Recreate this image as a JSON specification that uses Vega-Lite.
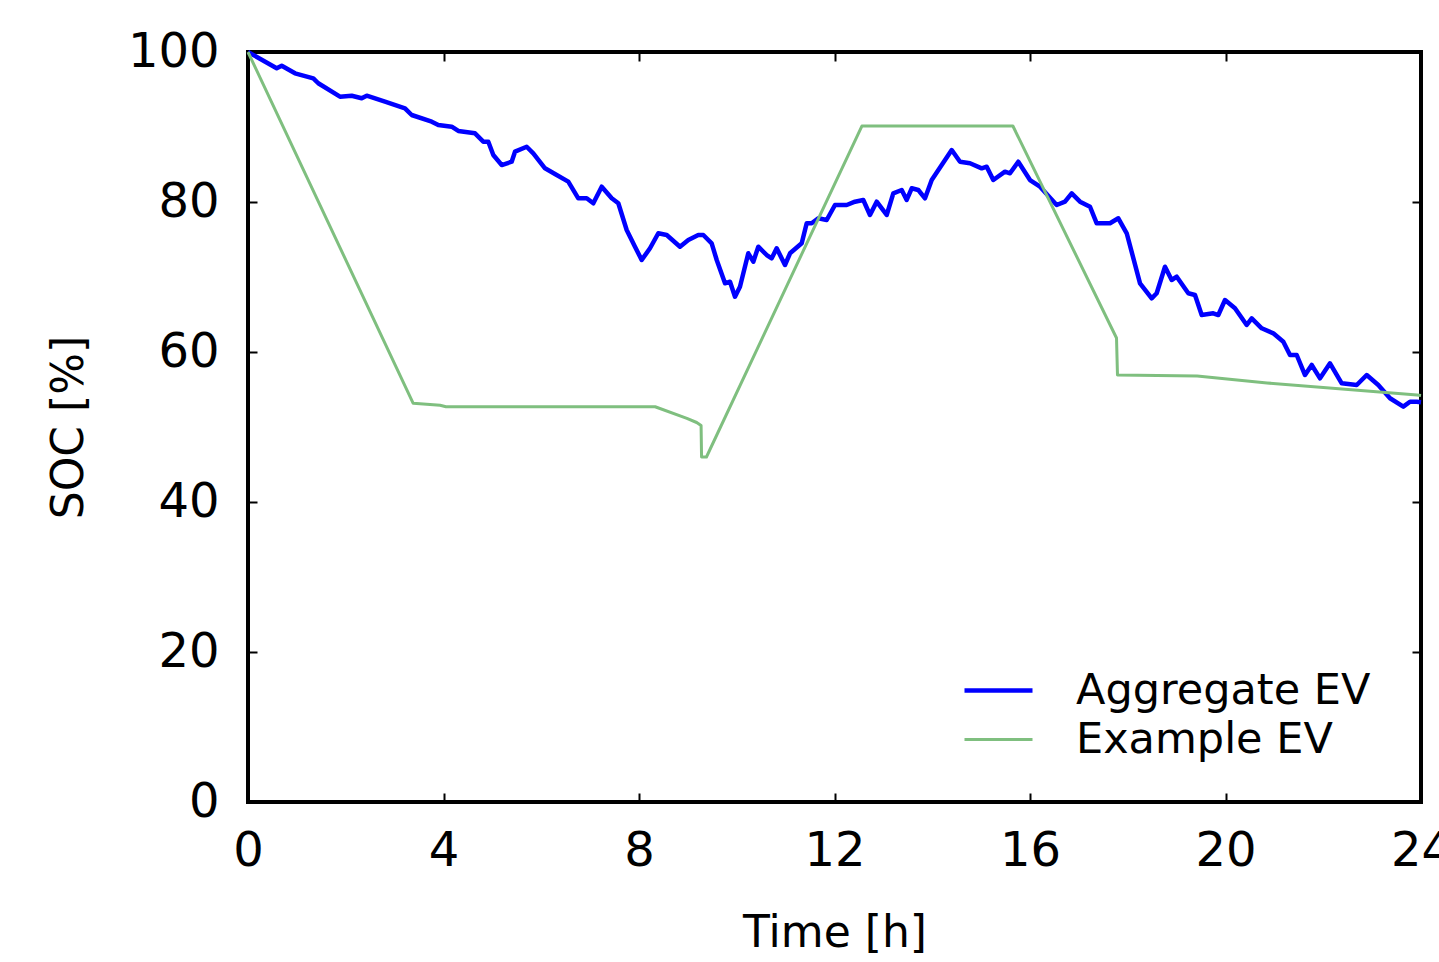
{
  "$schema": "https://vega.github.io/schema/vega-lite/v6.json",
  "width": 1173,
  "height": 750,
  "autosize": {"type": "none"},
  "padding": {"left": 248, "top": 52, "right": 18, "bottom": 160},
  "background": "white",
  "config": {
    "font": "DejaVu Sans",
    "view": {"stroke": "black", "strokeWidth": 4},
    "axis": {
      "domain": false,
      "grid": false,
      "tickColor": "black",
      "tickWidth": 2,
      "tickSize": -9,
      "labelColor": "black",
      "titleColor": "black",
      "labelFont": "DejaVu Sans",
      "titleFont": "DejaVu Sans",
      "titleFontWeight": "normal",
      "labelFontSize": 48,
      "titleFontSize": 44
    }
  },
  "data": {
    "values": [
      {"series": "Aggregate EV", "i": 0, "t": 0, "soc": 100},
      {"series": "Aggregate EV", "i": 1, "t": 0.587, "soc": 97.83},
      {"series": "Aggregate EV", "i": 2, "t": 0.69, "soc": 98.17},
      {"series": "Aggregate EV", "i": 3, "t": 0.962, "soc": 97.16},
      {"series": "Aggregate EV", "i": 4, "t": 1.336, "soc": 96.49},
      {"series": "Aggregate EV", "i": 5, "t": 1.438, "soc": 95.83},
      {"series": "Aggregate EV", "i": 6, "t": 1.882, "soc": 94.04},
      {"series": "Aggregate EV", "i": 7, "t": 2.122, "soc": 94.17},
      {"series": "Aggregate EV", "i": 8, "t": 2.326, "soc": 93.83},
      {"series": "Aggregate EV", "i": 9, "t": 2.429, "soc": 94.17},
      {"series": "Aggregate EV", "i": 10, "t": 2.803, "soc": 93.37},
      {"series": "Aggregate EV", "i": 11, "t": 3.212, "soc": 92.49},
      {"series": "Aggregate EV", "i": 12, "t": 3.349, "soc": 91.6},
      {"series": "Aggregate EV", "i": 13, "t": 3.759, "soc": 90.71},
      {"series": "Aggregate EV", "i": 14, "t": 3.894, "soc": 90.27},
      {"series": "Aggregate EV", "i": 15, "t": 4.168, "soc": 90.04},
      {"series": "Aggregate EV", "i": 16, "t": 4.303, "soc": 89.47},
      {"series": "Aggregate EV", "i": 17, "t": 4.645, "soc": 89.16},
      {"series": "Aggregate EV", "i": 18, "t": 4.814, "soc": 88.04},
      {"series": "Aggregate EV", "i": 19, "t": 4.917, "soc": 88.04},
      {"series": "Aggregate EV", "i": 20, "t": 5.019, "soc": 86.27},
      {"series": "Aggregate EV", "i": 21, "t": 5.191, "soc": 84.93},
      {"series": "Aggregate EV", "i": 22, "t": 5.395, "soc": 85.37},
      {"series": "Aggregate EV", "i": 23, "t": 5.463, "soc": 86.71},
      {"series": "Aggregate EV", "i": 24, "t": 5.702, "soc": 87.37},
      {"series": "Aggregate EV", "i": 25, "t": 5.837, "soc": 86.49},
      {"series": "Aggregate EV", "i": 26, "t": 6.077, "soc": 84.49},
      {"series": "Aggregate EV", "i": 27, "t": 6.316, "soc": 83.6},
      {"series": "Aggregate EV", "i": 28, "t": 6.553, "soc": 82.71},
      {"series": "Aggregate EV", "i": 29, "t": 6.758, "soc": 80.49},
      {"series": "Aggregate EV", "i": 30, "t": 6.93, "soc": 80.49},
      {"series": "Aggregate EV", "i": 31, "t": 7.065, "soc": 79.83},
      {"series": "Aggregate EV", "i": 32, "t": 7.237, "soc": 82.04},
      {"series": "Aggregate EV", "i": 33, "t": 7.442, "soc": 80.49},
      {"series": "Aggregate EV", "i": 34, "t": 7.577, "soc": 79.83},
      {"series": "Aggregate EV", "i": 35, "t": 7.748, "soc": 76.27},
      {"series": "Aggregate EV", "i": 36, "t": 7.918, "soc": 74.04},
      {"series": "Aggregate EV", "i": 37, "t": 8.055, "soc": 72.27},
      {"series": "Aggregate EV", "i": 38, "t": 8.225, "soc": 73.83},
      {"series": "Aggregate EV", "i": 39, "t": 8.395, "soc": 75.83},
      {"series": "Aggregate EV", "i": 40, "t": 8.567, "soc": 75.6},
      {"series": "Aggregate EV", "i": 41, "t": 8.839, "soc": 74.04},
      {"series": "Aggregate EV", "i": 42, "t": 9.009, "soc": 74.93},
      {"series": "Aggregate EV", "i": 43, "t": 9.213, "soc": 75.6},
      {"series": "Aggregate EV", "i": 44, "t": 9.316, "soc": 75.6},
      {"series": "Aggregate EV", "i": 45, "t": 9.487, "soc": 74.49},
      {"series": "Aggregate EV", "i": 46, "t": 9.59, "soc": 72.27},
      {"series": "Aggregate EV", "i": 47, "t": 9.76, "soc": 69.16},
      {"series": "Aggregate EV", "i": 48, "t": 9.862, "soc": 69.37},
      {"series": "Aggregate EV", "i": 49, "t": 9.964, "soc": 67.37},
      {"series": "Aggregate EV", "i": 50, "t": 10.066, "soc": 68.71},
      {"series": "Aggregate EV", "i": 51, "t": 10.236, "soc": 73.16},
      {"series": "Aggregate EV", "i": 52, "t": 10.339, "soc": 72.04},
      {"series": "Aggregate EV", "i": 53, "t": 10.441, "soc": 74.04},
      {"series": "Aggregate EV", "i": 54, "t": 10.613, "soc": 72.93},
      {"series": "Aggregate EV", "i": 55, "t": 10.715, "soc": 72.49},
      {"series": "Aggregate EV", "i": 56, "t": 10.817, "soc": 73.83},
      {"series": "Aggregate EV", "i": 57, "t": 10.987, "soc": 71.6},
      {"series": "Aggregate EV", "i": 58, "t": 11.09, "soc": 73.16},
      {"series": "Aggregate EV", "i": 59, "t": 11.329, "soc": 74.49},
      {"series": "Aggregate EV", "i": 60, "t": 11.431, "soc": 77.16},
      {"series": "Aggregate EV", "i": 61, "t": 11.533, "soc": 77.16},
      {"series": "Aggregate EV", "i": 62, "t": 11.669, "soc": 77.83},
      {"series": "Aggregate EV", "i": 63, "t": 11.84, "soc": 77.6},
      {"series": "Aggregate EV", "i": 64, "t": 12.01, "soc": 79.6},
      {"series": "Aggregate EV", "i": 65, "t": 12.25, "soc": 79.6},
      {"series": "Aggregate EV", "i": 66, "t": 12.419, "soc": 80.04},
      {"series": "Aggregate EV", "i": 67, "t": 12.589, "soc": 80.27},
      {"series": "Aggregate EV", "i": 68, "t": 12.726, "soc": 78.27},
      {"series": "Aggregate EV", "i": 69, "t": 12.863, "soc": 80.04},
      {"series": "Aggregate EV", "i": 70, "t": 13.068, "soc": 78.27},
      {"series": "Aggregate EV", "i": 71, "t": 13.203, "soc": 81.16},
      {"series": "Aggregate EV", "i": 72, "t": 13.375, "soc": 81.6},
      {"series": "Aggregate EV", "i": 73, "t": 13.477, "soc": 80.27},
      {"series": "Aggregate EV", "i": 74, "t": 13.58, "soc": 81.83},
      {"series": "Aggregate EV", "i": 75, "t": 13.715, "soc": 81.6},
      {"series": "Aggregate EV", "i": 76, "t": 13.852, "soc": 80.49},
      {"series": "Aggregate EV", "i": 77, "t": 13.989, "soc": 82.93},
      {"series": "Aggregate EV", "i": 78, "t": 14.398, "soc": 86.93},
      {"series": "Aggregate EV", "i": 79, "t": 14.568, "soc": 85.37},
      {"series": "Aggregate EV", "i": 80, "t": 14.772, "soc": 85.16},
      {"series": "Aggregate EV", "i": 81, "t": 15.012, "soc": 84.49},
      {"series": "Aggregate EV", "i": 82, "t": 15.114, "soc": 84.71},
      {"series": "Aggregate EV", "i": 83, "t": 15.249, "soc": 82.93},
      {"series": "Aggregate EV", "i": 84, "t": 15.488, "soc": 84.04},
      {"series": "Aggregate EV", "i": 85, "t": 15.591, "soc": 83.83},
      {"series": "Aggregate EV", "i": 86, "t": 15.76, "soc": 85.37},
      {"series": "Aggregate EV", "i": 87, "t": 16.0, "soc": 82.93},
      {"series": "Aggregate EV", "i": 88, "t": 16.205, "soc": 82.04},
      {"series": "Aggregate EV", "i": 89, "t": 16.546, "soc": 79.6},
      {"series": "Aggregate EV", "i": 90, "t": 16.716, "soc": 80.04},
      {"series": "Aggregate EV", "i": 91, "t": 16.853, "soc": 81.16},
      {"series": "Aggregate EV", "i": 92, "t": 17.023, "soc": 80.04},
      {"series": "Aggregate EV", "i": 93, "t": 17.228, "soc": 79.37},
      {"series": "Aggregate EV", "i": 94, "t": 17.365, "soc": 77.16},
      {"series": "Aggregate EV", "i": 95, "t": 17.637, "soc": 77.16},
      {"series": "Aggregate EV", "i": 96, "t": 17.807, "soc": 77.83},
      {"series": "Aggregate EV", "i": 97, "t": 17.979, "soc": 75.83},
      {"series": "Aggregate EV", "i": 98, "t": 18.251, "soc": 69.16},
      {"series": "Aggregate EV", "i": 99, "t": 18.49, "soc": 67.16},
      {"series": "Aggregate EV", "i": 100, "t": 18.592, "soc": 67.83},
      {"series": "Aggregate EV", "i": 101, "t": 18.762, "soc": 71.37},
      {"series": "Aggregate EV", "i": 102, "t": 18.899, "soc": 69.6},
      {"series": "Aggregate EV", "i": 103, "t": 19.002, "soc": 70.04},
      {"series": "Aggregate EV", "i": 104, "t": 19.239, "soc": 67.83},
      {"series": "Aggregate EV", "i": 105, "t": 19.376, "soc": 67.6},
      {"series": "Aggregate EV", "i": 106, "t": 19.513, "soc": 64.93},
      {"series": "Aggregate EV", "i": 107, "t": 19.75, "soc": 65.16},
      {"series": "Aggregate EV", "i": 108, "t": 19.853, "soc": 64.93},
      {"series": "Aggregate EV", "i": 109, "t": 19.99, "soc": 66.93},
      {"series": "Aggregate EV", "i": 110, "t": 20.194, "soc": 65.83},
      {"series": "Aggregate EV", "i": 111, "t": 20.434, "soc": 63.6},
      {"series": "Aggregate EV", "i": 112, "t": 20.536, "soc": 64.49},
      {"series": "Aggregate EV", "i": 113, "t": 20.741, "soc": 63.16},
      {"series": "Aggregate EV", "i": 114, "t": 20.978, "soc": 62.49},
      {"series": "Aggregate EV", "i": 115, "t": 21.183, "soc": 61.37},
      {"series": "Aggregate EV", "i": 116, "t": 21.32, "soc": 59.6},
      {"series": "Aggregate EV", "i": 117, "t": 21.457, "soc": 59.6},
      {"series": "Aggregate EV", "i": 118, "t": 21.627, "soc": 56.93},
      {"series": "Aggregate EV", "i": 119, "t": 21.764, "soc": 58.27},
      {"series": "Aggregate EV", "i": 120, "t": 21.934, "soc": 56.49},
      {"series": "Aggregate EV", "i": 121, "t": 22.138, "soc": 58.49},
      {"series": "Aggregate EV", "i": 122, "t": 22.378, "soc": 55.83},
      {"series": "Aggregate EV", "i": 123, "t": 22.685, "soc": 55.6},
      {"series": "Aggregate EV", "i": 124, "t": 22.889, "soc": 56.93},
      {"series": "Aggregate EV", "i": 125, "t": 23.126, "soc": 55.6},
      {"series": "Aggregate EV", "i": 126, "t": 23.366, "soc": 53.83},
      {"series": "Aggregate EV", "i": 127, "t": 23.638, "soc": 52.71},
      {"series": "Aggregate EV", "i": 128, "t": 23.775, "soc": 53.37},
      {"series": "Aggregate EV", "i": 129, "t": 23.912, "soc": 53.37},
      {"series": "Aggregate EV", "i": 130, "t": 24.0, "soc": 53.3},
      {"series": "Example EV", "i": 0, "t": 0, "soc": 100},
      {"series": "Example EV", "i": 1, "t": 3.38, "soc": 53.16},
      {"series": "Example EV", "i": 2, "t": 3.93, "soc": 52.9},
      {"series": "Example EV", "i": 3, "t": 4.05, "soc": 52.7},
      {"series": "Example EV", "i": 4, "t": 8.33, "soc": 52.7},
      {"series": "Example EV", "i": 5, "t": 8.98, "soc": 51.16},
      {"series": "Example EV", "i": 6, "t": 9.18, "soc": 50.6},
      {"series": "Example EV", "i": 7, "t": 9.27, "soc": 50.2},
      {"series": "Example EV", "i": 8, "t": 9.28, "soc": 46.0},
      {"series": "Example EV", "i": 9, "t": 9.38, "soc": 46.0},
      {"series": "Example EV", "i": 10, "t": 12.56, "soc": 90.13},
      {"series": "Example EV", "i": 11, "t": 15.65, "soc": 90.13},
      {"series": "Example EV", "i": 12, "t": 17.77, "soc": 61.87},
      {"series": "Example EV", "i": 13, "t": 17.79, "soc": 56.93},
      {"series": "Example EV", "i": 14, "t": 19.42, "soc": 56.8},
      {"series": "Example EV", "i": 15, "t": 20.85, "soc": 55.87},
      {"series": "Example EV", "i": 16, "t": 23.92, "soc": 54.27},
      {"series": "Example EV", "i": 17, "t": 24.0, "soc": 54.2}
    ]
  },
  "layer": [
    {
      "mark": {"type": "line", "strokeJoin": "round"},
      "encoding": {
        "x": {
          "field": "t", "type": "quantitative",
          "scale": {"domain": [0, 24], "nice": false, "zero": false},
          "axis": {"orient": "bottom", "values": [0, 4, 8, 12, 16, 20, 24], "title": "Time [h]", "labelPadding": 34, "titlePadding": 36, "labelOverlap": false, "labelFlush": false}
        },
        "y": {
          "field": "soc", "type": "quantitative",
          "scale": {"domain": [0, 100], "nice": false},
          "axis": {"orient": "left", "values": [0, 20, 40, 60, 80, 100], "title": "SOC [%]", "labelPadding": 38, "titlePadding": 36, "labelOverlap": false, "labelFlush": false}
        },
        "color": {
          "field": "series", "type": "nominal",
          "scale": {"domain": ["Aggregate EV", "Example EV"], "range": ["#0000ff", "#7fbf7f"]},
          "legend": {
            "title": null, "orient": "none", "legendX": 714, "legendY": 614,
            "symbolType": "stroke", "symbolSize": 4624, "symbolStrokeWidth": 4,
            "labelFontSize": 43, "labelFont": "DejaVu Sans", "labelColor": "black",
            "labelOffset": 41, "rowPadding": 0, "clipHeight": 49, "labelLimit": 0
          }
        },
        "strokeWidth": {
          "field": "series", "type": "nominal",
          "scale": {"domain": ["Aggregate EV", "Example EV"], "range": [4.5, 3]},
          "legend": null
        },
        "order": {"field": "i", "type": "quantitative"}
      }
    },
    {
      "mark": {"type": "line", "opacity": 0},
      "encoding": {
        "x": {
          "field": "t", "type": "quantitative",
          "axis": {"orient": "top", "values": [0, 4, 8, 12, 16, 20, 24], "labels": false, "title": null}
        },
        "y": {
          "field": "soc", "type": "quantitative",
          "axis": {"orient": "right", "values": [0, 20, 40, 60, 80, 100], "labels": false, "title": null}
        },
        "detail": {"field": "series", "type": "nominal"},
        "order": {"field": "i", "type": "quantitative"}
      }
    }
  ],
  "resolve": {"axis": {"x": "independent", "y": "independent"}}
}
